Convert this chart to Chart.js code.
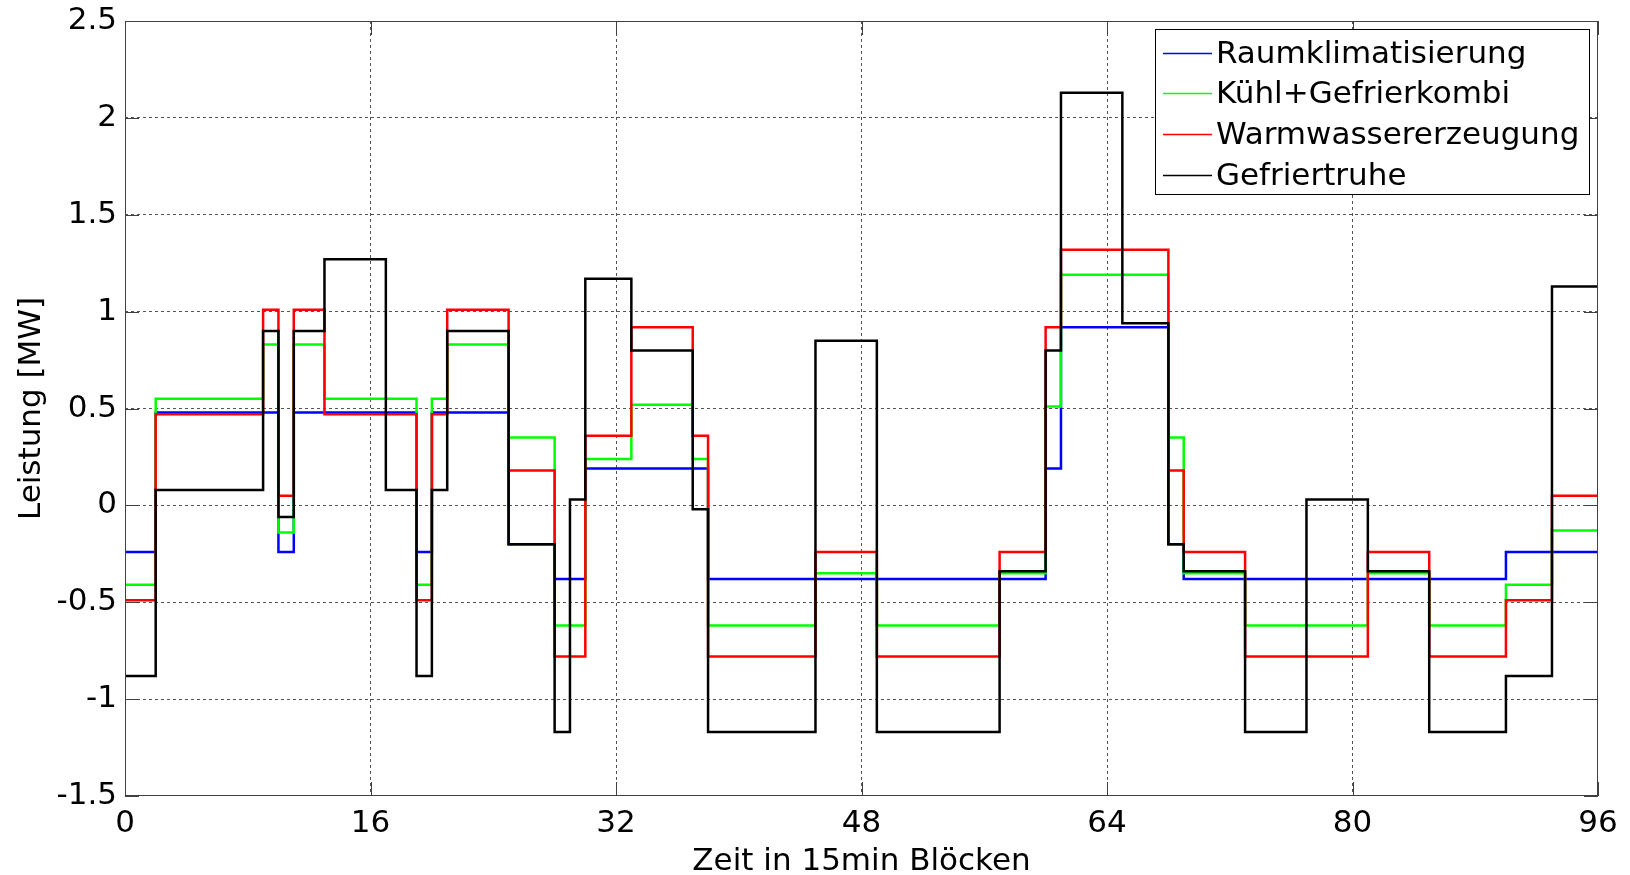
<!DOCTYPE html>
<html>
<head>
<meta charset="utf-8">
<script src="https://cdn.jsdelivr.net/npm/chart.js@4"></script>
<style>
  html,body{margin:0;padding:0;background:#fff;}
  #c{display:block;}
</style>
</head>
<body>
<canvas id="c" width="1630" height="875"></canvas>
<script>
// Leistung je 15-min-Block (96 Blöcke = 24 h), Werte in MW
const seriesNames = ['Raumklimatisierung', 'Kühl+Gefrierkombi', 'Warmwassererzeugung', 'Gefriertruhe'];
const seriesColors = ['#0000ff', '#00ff00', '#ff0000', '#000000'];

const raumklima = [
  -0.24,-0.24,0.48,0.48,0.48,0.48,0.48,0.48,0.48,0.48,-0.24,0.48,0.48,0.48,0.48,0.48,
  0.48,0.48,0.48,-0.24,0.48,0.48,0.48,0.48,0.48,-0.2,-0.2,-0.2,-0.38,-0.38,0.19,0.19,
  0.19,0.19,0.19,0.19,0.19,0.19,-0.38,-0.38,-0.38,-0.38,-0.38,-0.38,-0.38,-0.38,-0.38,-0.38,
  -0.38,-0.38,-0.38,-0.38,-0.38,-0.38,-0.38,-0.38,-0.38,-0.38,-0.38,-0.38,0.19,0.92,0.92,0.92,
  0.92,0.92,0.92,0.92,-0.2,-0.38,-0.38,-0.38,-0.38,-0.38,-0.38,-0.38,-0.38,-0.38,-0.38,-0.38,
  -0.38,-0.38,-0.38,-0.38,-0.38,-0.38,-0.38,-0.38,-0.38,-0.38,-0.24,-0.24,-0.24,-0.24,-0.24,-0.24
];
const kuehlGefrier = [
  -0.41,-0.41,0.55,0.55,0.55,0.55,0.55,0.55,0.55,0.83,-0.14,0.83,0.83,0.55,0.55,0.55,
  0.55,0.55,0.55,-0.41,0.55,0.83,0.83,0.83,0.83,0.35,0.35,0.35,-0.62,-0.62,0.24,0.24,
  0.24,0.52,0.52,0.52,0.52,0.24,-0.62,-0.62,-0.62,-0.62,-0.62,-0.62,-0.62,-0.35,-0.35,-0.35,
  -0.35,-0.62,-0.62,-0.62,-0.62,-0.62,-0.62,-0.62,-0.62,-0.35,-0.35,-0.35,0.51,1.19,1.19,1.19,
  1.19,1.19,1.19,1.19,0.35,-0.35,-0.35,-0.35,-0.35,-0.62,-0.62,-0.62,-0.62,-0.62,-0.62,-0.62,
  -0.62,-0.35,-0.35,-0.35,-0.35,-0.62,-0.62,-0.62,-0.62,-0.62,-0.41,-0.41,-0.41,-0.13,-0.13,-0.13
];
const warmwasser = [
  -0.49,-0.49,0.47,0.47,0.47,0.47,0.47,0.47,0.47,1.01,0.05,1.01,1.01,0.47,0.47,0.47,
  0.47,0.47,0.47,-0.49,0.47,1.01,1.01,1.01,1.01,0.18,0.18,0.18,-0.78,-0.78,0.36,0.36,
  0.36,0.92,0.92,0.92,0.92,0.36,-0.78,-0.78,-0.78,-0.78,-0.78,-0.78,-0.78,-0.24,-0.24,-0.24,
  -0.24,-0.78,-0.78,-0.78,-0.78,-0.78,-0.78,-0.78,-0.78,-0.24,-0.24,-0.24,0.92,1.32,1.32,1.32,
  1.32,1.32,1.32,1.32,0.18,-0.24,-0.24,-0.24,-0.24,-0.78,-0.78,-0.78,-0.78,-0.78,-0.78,-0.78,
  -0.78,-0.24,-0.24,-0.24,-0.24,-0.78,-0.78,-0.78,-0.78,-0.78,-0.49,-0.49,-0.49,0.05,0.05,0.05
];
const gefriertruhe = [
  -0.88,-0.88,0.08,0.08,0.08,0.08,0.08,0.08,0.08,0.9,-0.06,0.9,0.9,1.27,1.27,1.27,
  1.27,0.08,0.08,-0.88,0.08,0.9,0.9,0.9,0.9,-0.2,-0.2,-0.2,-1.17,0.03,1.17,1.17,
  1.17,0.8,0.8,0.8,0.8,-0.02,-1.17,-1.17,-1.17,-1.17,-1.17,-1.17,-1.17,0.85,0.85,0.85,
  0.85,-1.17,-1.17,-1.17,-1.17,-1.17,-1.17,-1.17,-1.17,-0.34,-0.34,-0.34,0.8,2.13,2.13,2.13,
  2.13,0.94,0.94,0.94,-0.2,-0.34,-0.34,-0.34,-0.34,-1.17,-1.17,-1.17,-1.17,0.03,0.03,0.03,
  0.03,-0.34,-0.34,-0.34,-0.34,-1.17,-1.17,-1.17,-1.17,-1.17,-0.88,-0.88,-0.88,1.13,1.13,1.13
];

const xTicks = [0, 16, 32, 48, 64, 80, 96];
const yTicks = [-1.5, -1, -0.5, 0, 0.5, 1, 1.5, 2, 2.5];
const yTickLabels = ['-1.5', '-1', '-0.5', '0', '0.5', '1', '1.5', '2', '2.5'];

const FONT = 'DejaVu Sans';

// Treppenfunktion: Wert gilt vom Blockanfang bis zum nächsten Block
function stairs(vals){
  const pts = vals.map((v,i)=>({x:i, y:v}));
  pts.push({x:vals.length, y:vals[vals.length-1]});
  return pts;
}

const allSeries = [raumklima, kuehlGefrier, warmwasser, gefriertruhe];

// Rahmen, Ticks nach innen (MATLAB-Stil) und Legende oben rechts
const framePlugin = {
  id: 'frame',
  afterDraw(chart){
    const {ctx, chartArea:a, scales:{x, y}} = chart;
    ctx.save();
    ctx.strokeStyle = '#404040'; ctx.lineWidth = 1;
    ctx.strokeRect(a.left+0.5, a.top+0.5, a.right-a.left-1, a.bottom-a.top-1);
    const TL = 14;
    ctx.beginPath();
    xTicks.forEach(t=>{
      const px = Math.round(x.getPixelForValue(t))+0.5;
      ctx.moveTo(px, a.bottom); ctx.lineTo(px, a.bottom-TL);
      ctx.moveTo(px, a.top); ctx.lineTo(px, a.top+TL);
    });
    yTicks.forEach(t=>{
      const py = Math.round(y.getPixelForValue(t))+0.5;
      ctx.moveTo(a.left, py); ctx.lineTo(a.left+TL, py);
      ctx.moveTo(a.right, py); ctx.lineTo(a.right-TL, py);
    });
    ctx.stroke();

    // Legende
    const L=1155, T=29, R=1590, B=195;
    ctx.fillStyle = '#fff';
    ctx.fillRect(L, T, R-L, B-T);
    ctx.strokeStyle = '#000';
    ctx.strokeRect(L+0.5, T+0.5, R-L-1, B-T-1);
    ctx.font = '31px "'+FONT+'"';
    ctx.textAlign = 'left'; ctx.textBaseline = 'middle';
    chart.data.datasets.forEach((ds,i)=>{
      const cy = Math.round(52.5 + i*40.7)+0.5;
      ctx.strokeStyle = ds.borderColor; ctx.lineWidth = 1.5;
      ctx.beginPath(); ctx.moveTo(1163, cy); ctx.lineTo(1212, cy); ctx.stroke();
      ctx.fillStyle = '#000';
      ctx.fillText(ds.label, 1216, cy+1);
    });
    ctx.restore();
  }
};

new Chart(document.getElementById('c'), {
  type: 'line',
  data: {
    datasets: seriesNames.map((name,i)=>({
      label: name,
      data: stairs(allSeries[i]),
      borderColor: seriesColors[i],
      backgroundColor: seriesColors[i],
      borderWidth: 2.5,
      pointRadius: 0,
      stepped: 'before',
      fill: false,
      order: 4-i
    }))
  },
  options: {
    responsive: false,
    animation: false,
    devicePixelRatio: 1,
    layout: {padding: {left: 0, top: 21, right: 32, bottom: 0}},
    plugins: {legend: {display: false}, tooltip: {enabled: false}},
    scales: {
      x: {
        type: 'linear', min: 0, max: 96,
        afterBuildTicks: s=>{ s.ticks = xTicks.map(v=>({value:v})); },
        afterFit: s=>{ s.height = 79; },
        grid: {color: ctx=> (ctx.tick && (ctx.tick.value===0||ctx.tick.value===96)) ? 'rgba(0,0,0,0)' : '#555', lineWidth: 1, drawTicks: false},
        border: {display: false, dash: [3,3]},
        ticks: {padding: 9, color: '#000', font: {family: FONT, size: 31}, maxRotation: 0, autoSkip: false,
          callback: v=>String(v)},
        title: {display: true, text: 'Zeit in 15min Blöcken', color: '#000',
          font: {family: FONT, size: 31, lineHeight: 1}, padding: {top: 0, bottom: -2}}
      },
      y: {
        min: -1.5, max: 2.5,
        afterBuildTicks: s=>{ s.ticks = yTicks.map(v=>({value:v})); },
        afterFit: s=>{ s.width = 125; },
        grid: {color: ctx=> (ctx.tick && (ctx.tick.value===-1.5||ctx.tick.value===2.5)) ? 'rgba(0,0,0,0)' : '#555', lineWidth: 1, drawTicks: false},
        border: {display: false, dash: [3,3]},
        ticks: {padding: 8, color: '#000', font: {family: FONT, size: 31, lineHeight: 0.8}, autoSkip: false,
          callback: v=>yTickLabels[yTicks.indexOf(v)]},
        title: {display: true, text: 'Leistung [MW]', color: '#000',
          font: {family: FONT, size: 31, lineHeight: 1.2}, padding: {top: 13, bottom: 0}}
      }
    }
  },
  plugins: [framePlugin]
});
</script>
</body>
</html>
